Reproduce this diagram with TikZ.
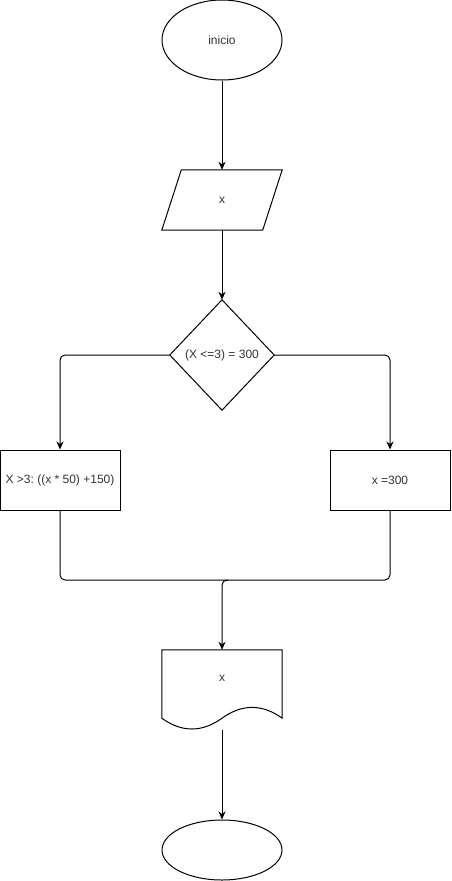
\documentclass[tikz,border=0pt]{standalone}
\usepackage{fontspec}
\setmainfont{Liberation Sans}
\usetikzlibrary{arrows.meta,shapes.geometric}
\definecolor{txt}{HTML}{333333}
\frenchspacing
\begin{document}
\begin{tikzpicture}[x=1pt,y=-1pt,
  every node/.style={font=\fontsize{12pt}{14pt}\selectfont, text=txt, inner sep=0pt},
  lw/.style={line width=1pt, draw=black},
  arr/.style={lw, -{Stealth[length=8pt,width=7pt,inset=2.5pt]}},
  ell/.style={ellipse, lw, minimum width=120pt},
  box/.style={rectangle, lw, minimum width=120pt, minimum height=60pt},
  ghost/.style={rectangle, minimum width=#1}
]
\useasboundingbox (0,0) rectangle (451,881);
\node[ell, minimum height=80pt] (start) at (222,40) {inicio};
\node[ghost=120pt, minimum height=60pt] (inp) at (222,200) {x};
\draw[lw] ([xshift=19.5pt]inp.north west) -- (inp.north east) -- ([xshift=-19.5pt]inp.south east) -- (inp.south west) -- cycle;
\node[ghost=104pt, minimum height=110pt] (dec) at (222,355) {(X <=3) = 300};
\draw[lw] (dec.north) -- (dec.east) -- (dec.south) -- (dec.west) -- cycle;
\node[box] (lbox) at (60,480) {X >3: ((x * 50) +150)};
\node[box] (rbox) at (390,480) {x =300};
\node[ghost=120pt, minimum height=80pt] (doc) at (222,690) {};
\node at (222,678) (doctext) {x};
\draw[lw] (doc.north west) -- (doc.north east) -- ([yshift=12pt]doc.south east)
  .. controls +(-20pt,14.4pt) and +(20pt,14.4pt) .. ([yshift=12pt]doc.south)
  .. controls +(-20pt,-14.4pt) and +(20pt,-14.4pt) .. ([yshift=12pt]doc.south west) -- cycle;
\node[ell, minimum height=60pt] (end) at (222,850) {};
\coordinate (mj) at (222,580);
\draw[arr] (start.south) -- (inp.north);
\draw[arr] (inp.south) -- (dec.north);
\draw[arr, rounded corners=5pt] (dec.west) -| (lbox.north);
\draw[arr, rounded corners=5pt] (dec.east) -| (rbox.north);
\draw[lw, rounded corners=5pt] (lbox.south) |- (mj) -| (rbox.south);
\draw[arr, rounded corners=5pt] ([xshift=6pt]mj) -- (mj) -- (doc.north);
\draw[arr] (doc.south) -- (end.north);
\end{tikzpicture}
\end{document}
